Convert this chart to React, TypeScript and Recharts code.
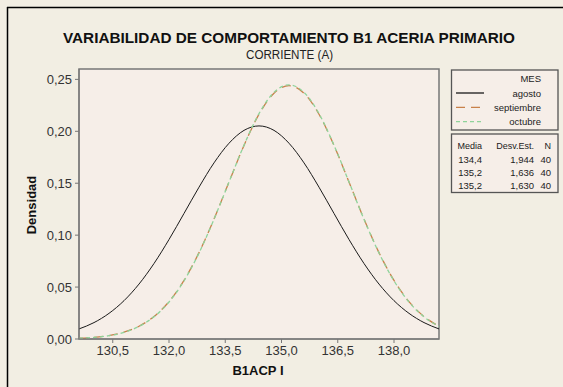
import React from 'react';
import { LineChart, Line, XAxis, YAxis, CartesianGrid, ReferenceArea } from 'recharts';

const xValues = [129.6, 130.0, 130.4, 130.8, 131.2, 131.6, 132.0, 132.4, 132.8, 133.2, 133.6, 134.0, 134.4, 134.8, 135.2, 135.6, 136.0, 136.4, 136.8, 137.2, 137.6, 138.0, 138.4, 138.8, 139.2];
const agosto = [0.0097, 0.0158, 0.0247, 0.0369, 0.0529, 0.0727, 0.0958, 0.1209, 0.1462, 0.1696, 0.1885, 0.2009, 0.2052, 0.2009, 0.1885, 0.1696, 0.1462, 0.1209, 0.0958, 0.0727, 0.0529, 0.0369, 0.0247, 0.0158, 0.0097];
const septiembre = [0.0007, 0.0016, 0.0033, 0.0066, 0.0123, 0.0217, 0.0360, 0.0564, 0.0832, 0.1155, 0.1512, 0.1864, 0.2164, 0.2367, 0.2439, 0.2367, 0.2164, 0.1864, 0.1512, 0.1155, 0.0832, 0.0564, 0.0360, 0.0217, 0.0123];
const octubre = [0.0007, 0.0015, 0.0032, 0.0064, 0.0121, 0.0214, 0.0356, 0.0560, 0.0828, 0.1153, 0.1512, 0.1866, 0.2170, 0.2375, 0.2448, 0.2375, 0.2170, 0.1866, 0.1512, 0.1153, 0.0828, 0.0560, 0.0356, 0.0214, 0.0121];
const xTicks = [130.5, 132.0, 133.5, 135.0, 136.5, 138.0];
const yTicks = [0, 0.05, 0.1, 0.15, 0.2, 0.25];
const seriesNames = ['agosto', 'septiembre', 'octubre'];
const statMedia = ['134,4', '135,2', '135,2'];
const statDesv = ['1,944', '1,636', '1,630'];
const statN = ['40', '40', '40'];

const data = xValues.map((x, i) => ({ x, agosto: agosto[i], septiembre: septiembre[i], octubre: octubre[i] }));

const FONT = '"Liberation Sans", Arial, sans-serif';
const colors = ['#1a1a1a', '#c8814a', '#8fd39a'];
const dashes = [undefined, '9 6', '4 3'];

export default function App() {
  return (
    <div style={{ position: 'absolute', left: 0, top: 0, width: 563, height: 387, background: '#f2eee3', overflow: 'hidden' }}>
      <div style={{ position: 'absolute', left: 0, top: 0 }}>
        <LineChart width={563} height={387} data={data} margin={{ top: 69, right: 124, bottom: 18, left: 19 }}>
          <CartesianGrid horizontal={false} vertical={false} fill="#f6eee8" />
          <XAxis
            dataKey="x"
            type="number"
            domain={[129.6, 139.2]}
            ticks={xTicks}
            allowDataOverflow
            height={30}
            tickSize={4}
            tickMargin={3}
            stroke="#777"
            tick={{ fill: '#333', fontSize: 13, fontFamily: FONT }}
            tickFormatter={(v: number) => v.toFixed(1).replace('.', ',')}
          />
          <YAxis
            type="number"
            domain={[0, 0.26]}
            ticks={yTicks}
            allowDataOverflow
            width={60}
            tickSize={4}
            tickMargin={3}
            stroke="#777"
            tick={{ fill: '#333', fontSize: 13, fontFamily: FONT }}
            tickFormatter={(v: number) => v.toFixed(2).replace('.', ',')}
          />
          <ReferenceArea x1={129.6} x2={139.2} y1={0} y2={0.26} fill="none" stroke="#777" strokeWidth={1.5} ifOverflow="visible" />
          <Line dataKey="agosto" type="monotone" stroke={colors[0]} strokeWidth={1} dot={false} isAnimationActive={false} />
          <Line dataKey="septiembre" type="monotone" stroke={colors[1]} strokeWidth={1.3} strokeDasharray={dashes[1]} dot={false} isAnimationActive={false} />
          <Line dataKey="octubre" type="monotone" stroke={colors[2]} strokeWidth={1.3} strokeDasharray={dashes[2]} dot={false} isAnimationActive={false} />
        </LineChart>
      </div>
      <svg width={563} height={387} style={{ position: 'absolute', left: 0, top: 0, pointerEvents: 'none' }} fontFamily={FONT}>
        <line x1={7.5} y1={7} x2={7.5} y2={387} stroke="#000" strokeWidth={1.5} />
        <line x1={7} y1={7.5} x2={563} y2={7.5} stroke="#000" strokeWidth={1.5} />
        <text x={289} y={42.5} textAnchor="middle" fontSize={15} fontWeight="bold" fill="#111" textLength={452} lengthAdjust="spacingAndGlyphs">VARIABILIDAD DE COMPORTAMIENTO B1 ACERIA PRIMARIO</text>
        <text x={289.5} y={58.5} textAnchor="middle" fontSize={12} fill="#222" textLength={87} lengthAdjust="spacingAndGlyphs">CORRIENTE (A)</text>
        <text x={258} y={374.5} textAnchor="middle" fontSize={13} fontWeight="bold" fill="#111">B1ACP I</text>
        <text x={36} y={205} textAnchor="middle" fontSize={13} fontWeight="bold" fill="#111" transform="rotate(-90 36 205)">Densidad</text>
        <rect x={451.5} y={70} width={106.5} height={60} fill="#f6eee8" stroke="#555" strokeWidth={1.3} />
        <text x={541} y={82} textAnchor="end" fontSize={9.5} fill="#222">MES</text>
        {seriesNames.map((name, i) => (
          <g key={name}>
            <line x1={456} y1={93 + i * 14.3} x2={484} y2={93 + i * 14.3} stroke={colors[i]} strokeWidth={1.3} strokeDasharray={dashes[i]} />
            <text x={541} y={96.5 + i * 14.3} textAnchor="end" fontSize={9.5} fill="#222">{name}</text>
          </g>
        ))}
        <rect x={451.5} y={134} width={106.5} height={58.5} fill="#f6eee8" stroke="#555" strokeWidth={1.3} />
        <text x={482} y={149} textAnchor="end" fontSize={9} fill="#222">Media</text>
        <text x={534} y={149} textAnchor="end" fontSize={9} fill="#222">Desv.Est.</text>
        <text x={551} y={149} textAnchor="end" fontSize={9} fill="#222">N</text>
        {statMedia.map((m, i) => (
          <g key={i}>
            <text x={482} y={162.5 + i * 13.4} textAnchor="end" fontSize={9.5} fill="#222">{m}</text>
            <text x={534} y={162.5 + i * 13.4} textAnchor="end" fontSize={9.5} fill="#222">{statDesv[i]}</text>
            <text x={551} y={162.5 + i * 13.4} textAnchor="end" fontSize={9.5} fill="#222">{statN[i]}</text>
          </g>
        ))}
      </svg>
    </div>
  );
}
